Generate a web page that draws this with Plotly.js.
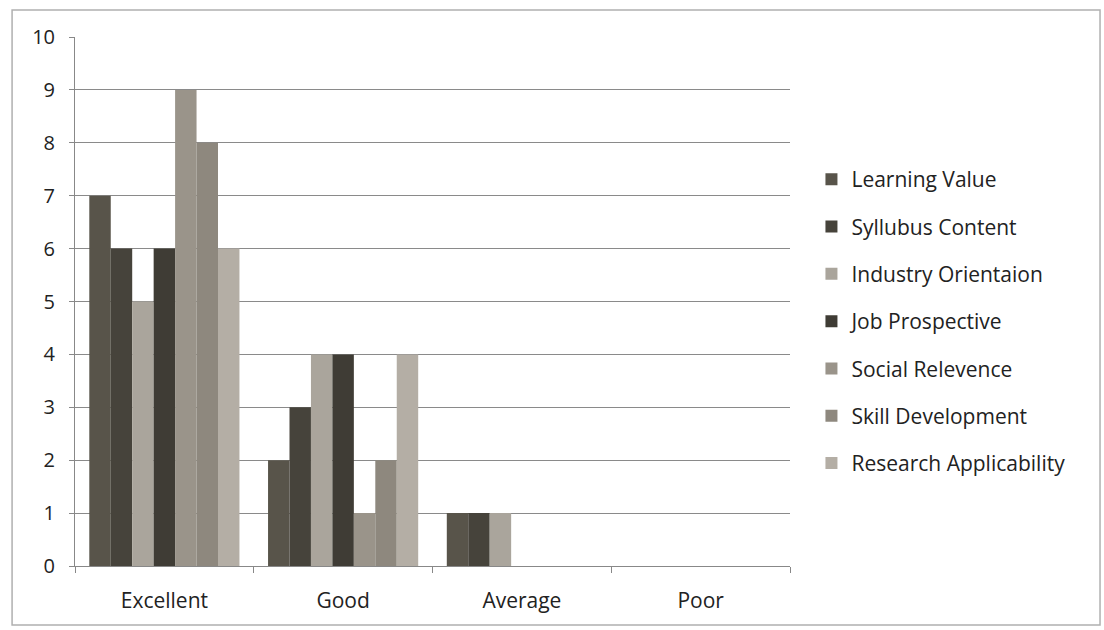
<!DOCTYPE html>
<html>
<head>
<meta charset="utf-8">
<script src="https://cdn.plot.ly/plotly-3.0.1.min.js"></script>
<style>html,body{margin:0;padding:0;background:#fff;}#chart{width:1104px;height:630px;}</style>
</head>
<body>
<div id="chart"></div>
<script>
const categories = ["Excellent", "Good", "Average", "Poor"];
const seriesNames = ["Learning Value", "Syllubus Content", "Industry Orientaion", "Job Prospective", "Social Relevence", "Skill Development", "Research Applicability"];
const learningValue = [7, 2, 1, 0];
const syllabusContent = [6, 3, 1, 0];
const industryOrientation = [5, 4, 1, 0];
const jobProspective = [6, 4, 0, 0];
const socialRelevence = [9, 1, 0, 0];
const skillDevelopment = [8, 2, 0, 0];
const researchApplicability = [6, 4, 0, 0];
const seriesValues = [learningValue, syllabusContent, industryOrientation, jobProspective, socialRelevence, skillDevelopment, researchApplicability];
const colors = ["#58544a", "#46433b", "#aaa59c", "#3f3c35", "#9a948a", "#8e887e", "#b4aea5"];
const yTicks = [0,1,2,3,4,5,6,7,8,9,10];

const traces = seriesNames.map((n, i) => ({
  type: "bar",
  name: n,
  x: categories,
  y: seriesValues[i],
  marker: {color: colors[i], line: {width: 0}},
  legendgroup: "g" + i
}));

const layout = {
  width: 1104, height: 630,
  margin: {l: 75, r: 314, t: 37, b: 64},
  paper_bgcolor: "#fff", plot_bgcolor: "#fff",
  font: {family: "'Open Sans', sans-serif", size: 20, color: "#222"},
  barmode: "group", bargap: 0.16, bargroupgap: 0,
  showlegend: true,
  legend: {x: 1.03, y: 0.462, yanchor: "middle", xanchor: "left",
    font: {size: 21, color: "#222"}, tracegroupgap: 17, itemwidth: 30},
  xaxis: {
    type: "category", showgrid: false, showline: true, linecolor: "#888", linewidth: 1,
    ticks: "outside", ticklen: 6, tickcolor: "#888", tickson: "boundaries",
    tickfont: {size: 21, color: "#222"}, zeroline: false, ticklabelstandoff: 16
  },
  yaxis: {
    range: [0, 10], tickvals: yTicks, showgrid: true, gridcolor: "#8a8a8a", gridwidth: 1,
    showline: true, linecolor: "#888", linewidth: 1, ticks: "outside", ticklen: 5, tickcolor: "#888",
    tickfont: {size: 20, color: "#222"}, zeroline: false, ticklabelstandoff: 10
  },
  shapes: [{type: "rect", xref: "paper", yref: "paper", x0: -0.088, x1: 1.4336, y0: -0.1115, y1: 1.051,
    line: {color: "#b0b0b0", width: 1.5}, layer: "below"}]
};
Plotly.newPlot("chart", traces, layout, {displayModeBar: false});
</script>
</body>
</html>
